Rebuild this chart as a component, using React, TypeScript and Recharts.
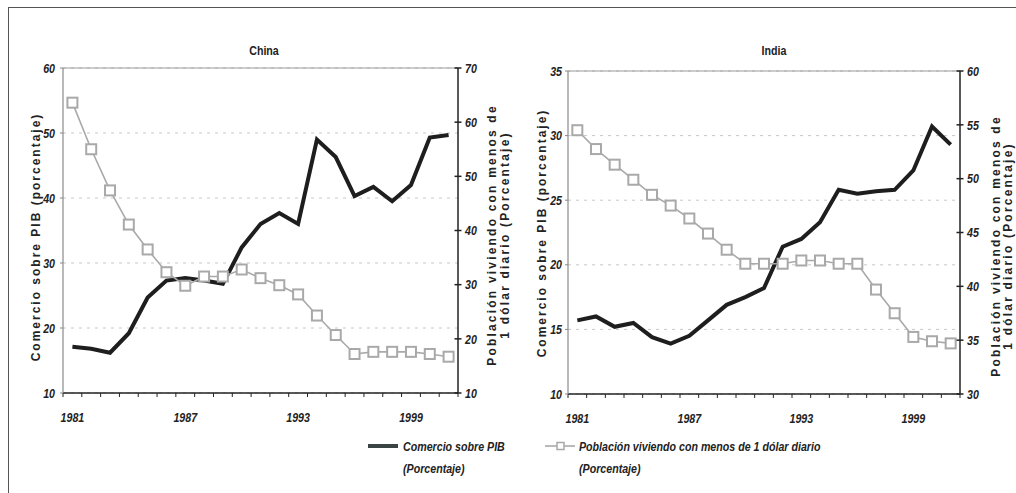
import React from 'react';
import { LineChart, Line, XAxis, YAxis, CartesianGrid, ReferenceLine } from 'recharts';

const years = ['1981','1982','1983','1984','1985','1986','1987','1988','1989','1990','1991','1992','1993','1994','1995','1996','1997','1998','1999','2000','2001'];
const yearLabels = ['1981','1987','1993','1999'];

const chinaTrade = [17.1,16.8,16.2,19.2,24.7,27.3,27.7,27.3,26.8,32.4,36.0,37.7,36.0,49.0,46.3,40.3,41.7,39.5,42.0,49.3,49.7];
const chinaPoverty = [63.6,55.0,47.4,41.1,36.5,32.3,29.8,31.5,31.5,32.8,31.2,29.9,28.2,24.3,20.7,17.2,17.6,17.6,17.6,17.2,16.7];
const indiaTrade = [15.7,16.0,15.2,15.5,14.4,13.9,14.5,15.7,16.9,17.5,18.2,21.4,22.0,23.3,25.8,25.5,25.7,25.8,27.3,30.7,29.3];
const indiaPoverty = [54.5,52.75,51.3,49.9,48.5,47.5,46.3,44.9,43.4,42.1,42.1,42.1,42.4,42.4,42.1,42.1,39.7,37.5,35.3,34.9,34.7];

const chinaLeftTicks = [10,20,30,40,50,60];
const chinaRightTicks = [10,20,30,40,50,60,70];
const indiaLeftTicks = [10,15,20,25,30,35];
const indiaRightTicks = [30,35,40,45,50,55,60];

const titles = ['China', 'India'];
const leftTitle = 'Comercio sobre PIB (porcentaje)';
const rightTitle1 = 'Población viviendo con menos de';
const rightTitle2 = '1 dólar diario (Porcentaje)';
const legendTrade = ['Comercio sobre PIB', '(Porcentaje)'];
const legendPoverty = ['Población viviendo con menos de 1 dólar diario', '(Porcentaje)'];

const chinaData = years.map((y, i) => ({ year: y, trade: chinaTrade[i], poverty: chinaPoverty[i] }));
const indiaData = years.map((y, i) => ({ year: y, trade: indiaTrade[i], poverty: indiaPoverty[i] }));

const SANS = "'Liberation Sans', Arial, sans-serif";
const GREY = '#a9a9a9';
const BLACK = '#1e1e1e';
const SQUEEZE = 0.82;

function NText({ x, y, anchor = 'start', size = 12, italic = true, bold = true, dy, children }: any) {
  return (
    <g transform={`translate(${x} ${y}) scale(${SQUEEZE} 1)`}>
      <text
        x={0}
        y={0}
        dy={dy}
        textAnchor={anchor}
        fontFamily={SANS}
        fontStyle={italic ? 'italic' : 'normal'}
        fontWeight={bold ? 'bold' : 'normal'}
        fontSize={size}
        fill="#222"
      >
        {children}
      </text>
    </g>
  );
}

function makeXTick(step: number, count: number) {
  return (props: any) => {
    const { x, y, payload, index } = props;
    const left = x - step / 2;
    return (
      <g>
        <line x1={left} x2={left} y1={y} y2={y + 4} stroke="#222" strokeWidth={1} />
        {index === count - 1 && (
          <line x1={x + step / 2} x2={x + step / 2} y1={y} y2={y + 4} stroke="#222" strokeWidth={1} />
        )}
        {yearLabels.includes(payload.value) && (
          <NText x={x} y={y + 29} anchor="middle" size={13}>{payload.value}</NText>
        )}
      </g>
    );
  };
}

function makeLeftTick(gap: number) {
  return (props: any) => {
    const { x, y, payload } = props;
    return (
      <g>
        <line x1={x - 3} x2={x} y1={y} y2={y} stroke="#888" strokeWidth={1} />
        <NText x={x - gap} y={y} dy="0.36em" anchor="end" size={13}>{payload.value}</NText>
      </g>
    );
  };
}

const RightTick = (props: any) => {
  const { x, y, payload } = props;
  return (
    <g>
      <line x1={x - 3.5} x2={x + 3.5} y1={y} y2={y} stroke="#222" strokeWidth={1.5} />
      <NText x={x + 7} y={y} dy="0.36em" anchor="start" size={13}>{payload.value}</NText>
    </g>
  );
};

const SquareDot = (props: any) => {
  const { cx, cy, index } = props;
  if (cx == null || cy == null) return <g key={index} />;
  return <rect key={index} x={cx - 5} y={cy - 5} width={10} height={10} fill="#fff" stroke={GREY} strokeWidth={2} />;
};

type PanelProps = {
  data: any[];
  left: number;
  width: number;
  top: number;
  bottom: number;
  leftW: number;
  rightW: number;
  plotW: number;
  leftDomain: number[];
  rightDomain: number[];
  leftTicks: number[];
  rightTicks: number[];
  leftGap: number;
};

function Panel(p: PanelProps) {
  const step = p.plotW / 21;
  return (
    <div style={{ position: 'absolute', left: p.left, top: 0 }}>
      <LineChart width={p.width} height={493} data={p.data} margin={{ top: p.top, right: 0, bottom: p.bottom, left: 0 }}>
        <CartesianGrid yAxisId="left" vertical={false} horizontal stroke="#c8c8c8" strokeDasharray="3 5" />
        <XAxis
          dataKey="year"
          interval={0}
          height={30}
          tickSize={0}
          tickMargin={0}
          padding={{ left: step / 2, right: step / 2 }}
          axisLine={{ stroke: '#222', strokeWidth: 1.5 }}
          tick={makeXTick(step, 21)}
        />
        <YAxis
          yAxisId="left"
          orientation="left"
          width={p.leftW}
          domain={p.leftDomain}
          ticks={p.leftTicks}
          interval={0}
          tickSize={0}
          tickMargin={0}
          axisLine={{ stroke: '#8a8a8a', strokeWidth: 1.2 }}
          tick={makeLeftTick(p.leftGap)}
        />
        <YAxis
          yAxisId="right"
          orientation="right"
          width={p.rightW}
          domain={p.rightDomain}
          ticks={p.rightTicks}
          interval={0}
          tickSize={0}
          tickMargin={0}
          axisLine={{ stroke: '#222', strokeWidth: 1.5 }}
          tick={RightTick}
        />
        <ReferenceLine yAxisId="left" y={p.leftDomain[1]} stroke="#9a9a9a" strokeWidth={1.2} />
        <Line yAxisId="left" dataKey="trade" type="linear" stroke={BLACK} strokeWidth={4} dot={false} activeDot={false} isAnimationActive={false} />
        <Line yAxisId="right" dataKey="poverty" type="linear" stroke={GREY} strokeWidth={1.6} dot={SquareDot} activeDot={false} isAnimationActive={false} />
      </LineChart>
    </div>
  );
}

function RotText({ x, y, text, size = 12, ls = 2 }: { x: number; y: number; text: string; size?: number; ls?: number }) {
  return (
    <text
      x={x}
      y={y}
      transform={`rotate(-90 ${x} ${y})`}
      textAnchor="middle"
      dominantBaseline="central"
      fontFamily={SANS}
      fontWeight="bold"
      fontSize={size}
      letterSpacing={ls}
      fill="#222"
    >
      {text}
    </text>
  );
}

export default function App() {
  return (
    <div style={{ position: 'absolute', left: 0, top: 0, width: 1016, height: 493, background: '#fff', overflow: 'hidden' }}>
      <div style={{ position: 'absolute', left: 8, top: 7, width: 1100, height: 600, borderTop: '1.5px solid #555', borderLeft: '1.5px solid #555' }} />
      <Panel
        data={chinaData}
        left={0}
        width={520}
        top={68}
        bottom={70}
        leftW={63}
        rightW={62}
        plotW={395}
        leftDomain={[10, 60]}
        rightDomain={[10, 70]}
        leftTicks={chinaLeftTicks}
        rightTicks={chinaRightTicks}
        leftGap={8}
      />
      <Panel
        data={indiaData}
        left={500}
        width={516}
        top={71}
        bottom={69}
        leftW={68}
        rightW={56}
        plotW={392}
        leftDomain={[10, 35]}
        rightDomain={[30, 60]}
        leftTicks={indiaLeftTicks}
        rightTicks={indiaRightTicks}
        leftGap={6}
      />
      <svg width={1016} height={493} style={{ position: 'absolute', left: 0, top: 0, pointerEvents: 'none' }}>
        <NText x={264} y={55} anchor="middle" size={13} italic={false}>{titles[0]}</NText>
        <NText x={774} y={55} anchor="middle" size={13} italic={false}>{titles[1]}</NText>
        <RotText x={36} y={237} text={leftTitle} />
        <RotText x={492} y={235} text={rightTitle1} ls={2.2} />
        <RotText x={505} y={235} text={rightTitle2} ls={2.2} />
        <RotText x={542} y={233} text={leftTitle} />
        <RotText x={996} y={246} text={rightTitle1} ls={2.2} />
        <RotText x={1008} y={246} text={rightTitle2} ls={2.2} />
        <line x1={368} x2={398} y1={446} y2={446} stroke="#3a4444" strokeWidth={4} />
        <NText x={403} y={450.5} size={13}>{legendTrade[0]}</NText>
        <NText x={403} y={472.5} size={13}>{legendTrade[1]}</NText>
        <line x1={545} x2={575} y1={446} y2={446} stroke={GREY} strokeWidth={1.6} />
        <rect x={557} y={442.5} width={7} height={7} fill="#fff" stroke={GREY} strokeWidth={1.5} />
        <NText x={579} y={450.5} size={13}>{legendPoverty[0]}</NText>
        <NText x={579} y={472.5} size={13}>{legendPoverty[1]}</NText>
      </svg>
    </div>
  );
}
